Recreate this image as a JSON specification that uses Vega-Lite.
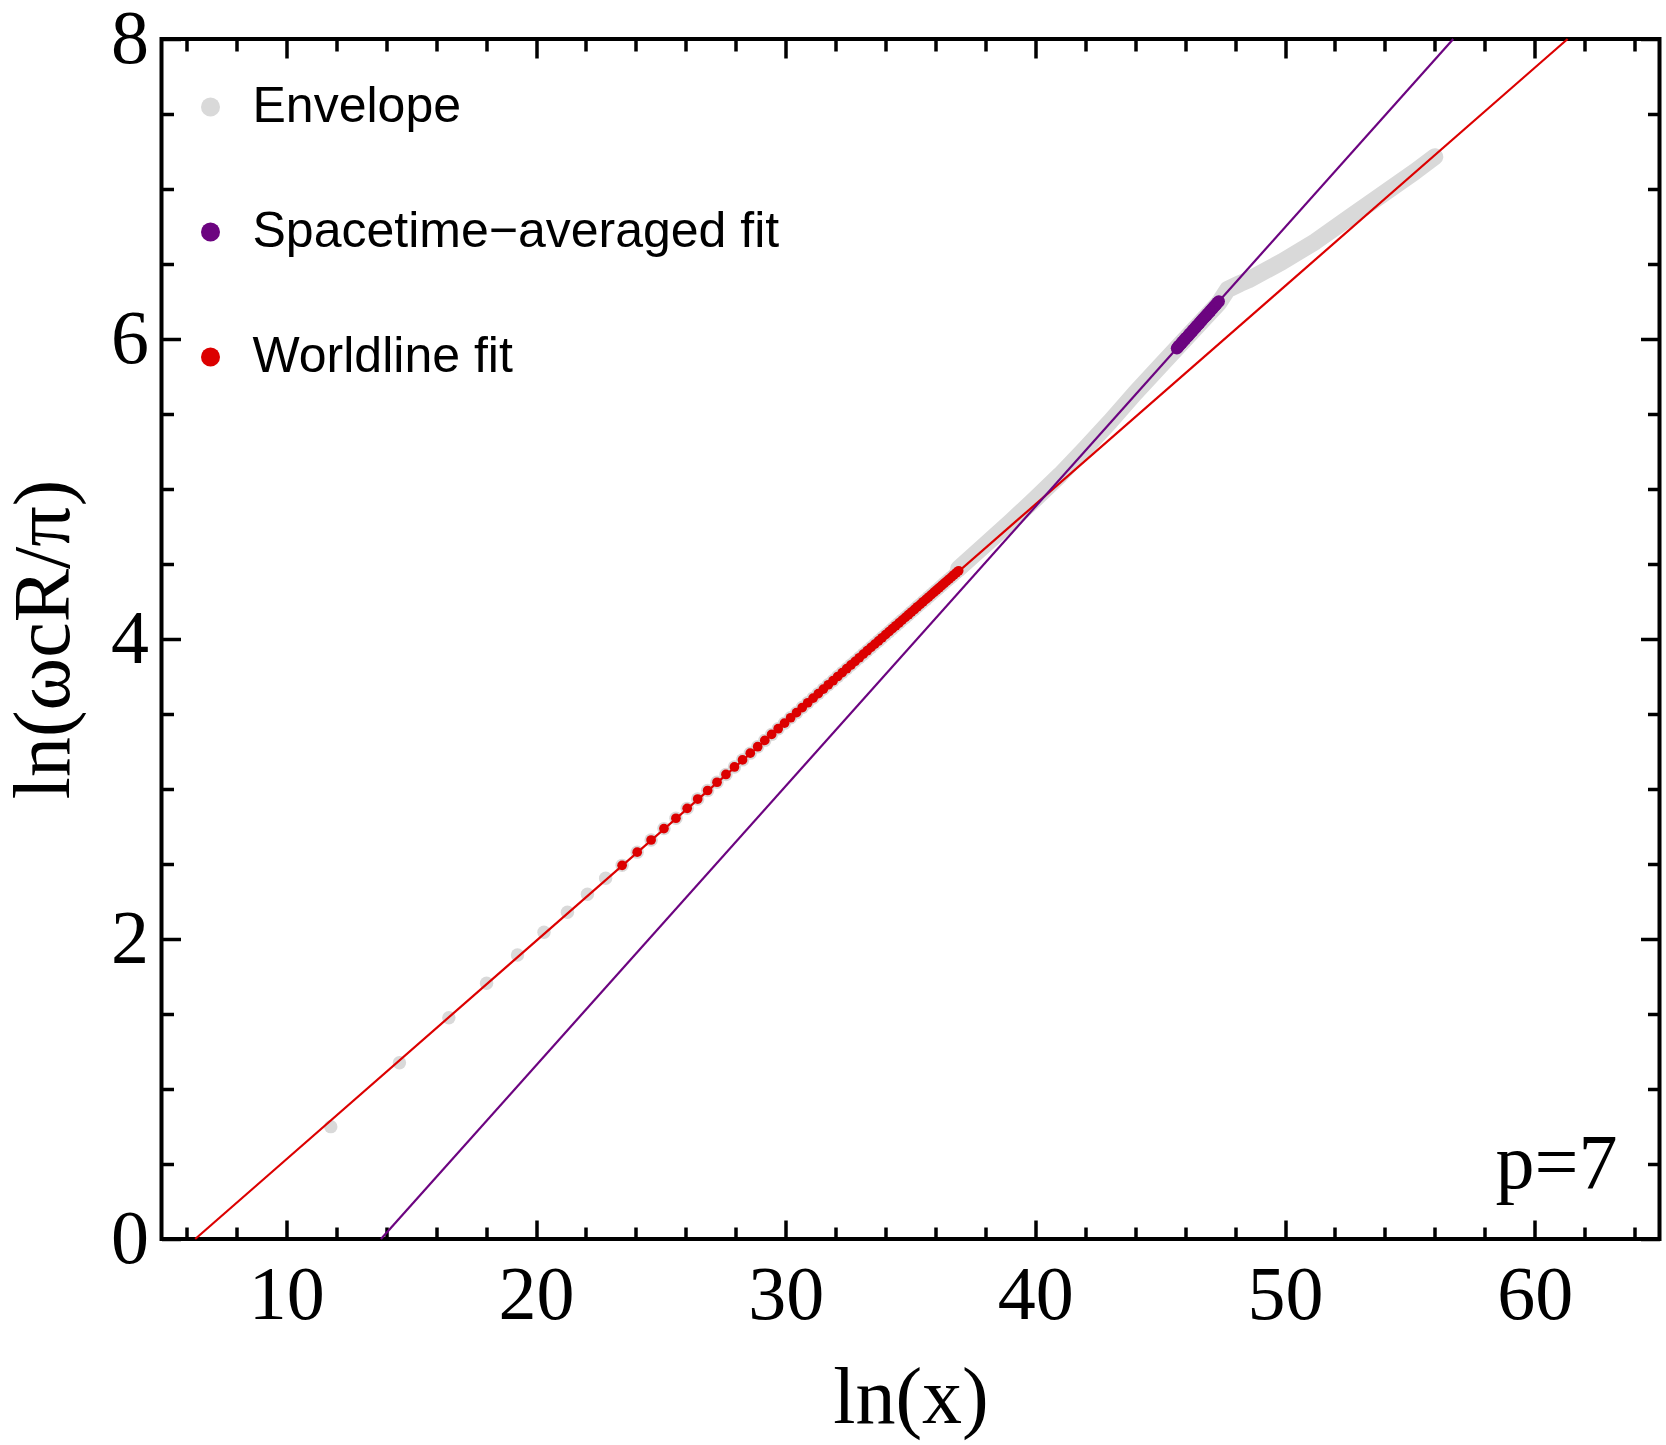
{
  "$schema": "https://vega.github.io/schema/vega-lite/v6.json",
  "autosize": "none",
  "padding": {"left": 161.5, "top": 39, "right": 6.5, "bottom": 206},
  "width": 1498,
  "height": 1200,
  "background": "white",
  "config": {
    "view": {"stroke": "black", "strokeWidth": 4},
    "axis": {
      "domain": false, "grid": false,
      "tickColor": "black", "tickWidth": 3.5,
      "labelFont": "Liberation Serif", "labelFontSize": 76, "labelColor": "black",
      "titleFont": "Liberation Serif", "titleFontSize": 80, "titleFontWeight": "normal", "titleColor": "black"
    }
  },
  "datasets": {
    "pts": [
      {"lx": 11.78, "ly": 0.749, "w": 0}, {"lx": 14.53, "ly": 1.175, "w": 0}, {"lx": 16.51, "ly": 1.475, "w": 0},
      {"lx": 18.02, "ly": 1.705, "w": 0}, {"lx": 19.26, "ly": 1.893, "w": 0}, {"lx": 20.32, "ly": 2.045, "w": 0},
      {"lx": 21.26, "ly": 2.178, "w": 0}, {"lx": 22.06, "ly": 2.298, "w": 0}, {"lx": 22.79, "ly": 2.405, "w": 0},
      {"lx": 23.449, "ly": 2.491, "w": 1}, {"lx": 24.053, "ly": 2.579, "w": 1}, {"lx": 24.61, "ly": 2.66, "w": 1},
      {"lx": 25.125, "ly": 2.736, "w": 1}, {"lx": 25.605, "ly": 2.805, "w": 1}, {"lx": 26.055, "ly": 2.871, "w": 1},
      {"lx": 26.477, "ly": 2.933, "w": 1}, {"lx": 26.875, "ly": 2.99, "w": 1}, {"lx": 27.25, "ly": 3.045, "w": 1},
      {"lx": 27.608, "ly": 3.097, "w": 1}, {"lx": 27.948, "ly": 3.147, "w": 1}, {"lx": 28.272, "ly": 3.194, "w": 1},
      {"lx": 28.582, "ly": 3.239, "w": 1}, {"lx": 28.879, "ly": 3.282, "w": 1}, {"lx": 29.164, "ly": 3.324, "w": 1},
      {"lx": 29.437, "ly": 3.364, "w": 1}, {"lx": 29.7, "ly": 3.402, "w": 1}, {"lx": 29.954, "ly": 3.439, "w": 1},
      {"lx": 30.199, "ly": 3.475, "w": 1}, {"lx": 30.435, "ly": 3.509, "w": 1}, {"lx": 30.664, "ly": 3.543, "w": 1},
      {"lx": 30.885, "ly": 3.575, "w": 1}, {"lx": 31.1, "ly": 3.606, "w": 1}, {"lx": 31.308, "ly": 3.636, "w": 1},
      {"lx": 31.511, "ly": 3.666, "w": 1}, {"lx": 31.708, "ly": 3.695, "w": 1}, {"lx": 31.899, "ly": 3.722, "w": 1},
      {"lx": 32.085, "ly": 3.75, "w": 1}, {"lx": 32.267, "ly": 3.776, "w": 1}, {"lx": 32.444, "ly": 3.802, "w": 1},
      {"lx": 32.616, "ly": 3.827, "w": 1}, {"lx": 32.784, "ly": 3.851, "w": 1}, {"lx": 32.948, "ly": 3.875, "w": 1},
      {"lx": 33.109, "ly": 3.899, "w": 1}, {"lx": 33.266, "ly": 3.922, "w": 1}, {"lx": 33.419, "ly": 3.944, "w": 1},
      {"lx": 33.57, "ly": 3.966, "w": 1}, {"lx": 33.717, "ly": 3.987, "w": 1}, {"lx": 33.861, "ly": 4.008, "w": 1},
      {"lx": 34.002, "ly": 4.029, "w": 1}, {"lx": 34.141, "ly": 4.049, "w": 1}, {"lx": 34.276, "ly": 4.069, "w": 1},
      {"lx": 34.409, "ly": 4.088, "w": 1}, {"lx": 34.54, "ly": 4.107, "w": 1}, {"lx": 34.668, "ly": 4.126, "w": 1},
      {"lx": 34.794, "ly": 4.144, "w": 1}, {"lx": 34.918, "ly": 4.162, "w": 1}, {"lx": 35.039, "ly": 4.18, "w": 1},
      {"lx": 35.159, "ly": 4.197, "w": 1}, {"lx": 35.276, "ly": 4.215, "w": 1}, {"lx": 35.392, "ly": 4.231, "w": 1},
      {"lx": 35.505, "ly": 4.248, "w": 1}, {"lx": 35.617, "ly": 4.264, "w": 1}, {"lx": 35.727, "ly": 4.28, "w": 1},
      {"lx": 35.836, "ly": 4.296, "w": 1}, {"lx": 35.942, "ly": 4.312, "w": 1}, {"lx": 36.047, "ly": 4.327, "w": 1},
      {"lx": 36.151, "ly": 4.342, "w": 1}, {"lx": 36.253, "ly": 4.357, "w": 1}, {"lx": 36.354, "ly": 4.372, "w": 1},
      {"lx": 36.453, "ly": 4.386, "w": 1}, {"lx": 36.551, "ly": 4.4, "w": 1}, {"lx": 36.647, "ly": 4.414, "w": 1},
      {"lx": 36.742, "ly": 4.428, "w": 1}, {"lx": 36.836, "ly": 4.442, "w": 1}, {"lx": 36.929, "ly": 4.455, "w": 1}
    ],
    "band": [
      {"lx": 36.93, "ly": 4.47}, {"lx": 38.0, "ly": 4.63}, {"lx": 39.0, "ly": 4.78}, {"lx": 40.0, "ly": 4.935},
      {"lx": 41.0, "ly": 5.095}, {"lx": 42.0, "ly": 5.27}, {"lx": 43.0, "ly": 5.45}, {"lx": 44.0, "ly": 5.64},
      {"lx": 45.0, "ly": 5.82}, {"lx": 45.67, "ly": 5.94}, {"lx": 47.35, "ly": 6.24}, {"lx": 47.7, "ly": 6.33},
      {"lx": 48.2, "ly": 6.37}, {"lx": 48.55, "ly": 6.395}, {"lx": 49.88, "ly": 6.515}, {"lx": 51.21, "ly": 6.649},
      {"lx": 52.54, "ly": 6.805}, {"lx": 53.87, "ly": 6.96}, {"lx": 55.2, "ly": 7.115}, {"lx": 56.0, "ly": 7.215}
    ],
    "st": [
      {"lx": 45.67, "ly": 5.938}, {"lx": 45.718, "ly": 5.947}, {"lx": 45.766, "ly": 5.956}, {"lx": 45.814, "ly": 5.965},
      {"lx": 45.862, "ly": 5.974}, {"lx": 45.91, "ly": 5.983}, {"lx": 45.958, "ly": 5.992}, {"lx": 46.006, "ly": 6.001},
      {"lx": 46.054, "ly": 6.01}, {"lx": 46.102, "ly": 6.018}, {"lx": 46.15, "ly": 6.027}, {"lx": 46.198, "ly": 6.036},
      {"lx": 46.246, "ly": 6.045}, {"lx": 46.294, "ly": 6.054}, {"lx": 46.342, "ly": 6.063}, {"lx": 46.39, "ly": 6.072},
      {"lx": 46.438, "ly": 6.081}, {"lx": 46.486, "ly": 6.09}, {"lx": 46.534, "ly": 6.099}, {"lx": 46.582, "ly": 6.108},
      {"lx": 46.63, "ly": 6.117}, {"lx": 46.678, "ly": 6.126}, {"lx": 46.726, "ly": 6.135}, {"lx": 46.774, "ly": 6.144},
      {"lx": 46.822, "ly": 6.152}, {"lx": 46.87, "ly": 6.161}, {"lx": 46.918, "ly": 6.17}, {"lx": 46.966, "ly": 6.179},
      {"lx": 47.014, "ly": 6.188}, {"lx": 47.062, "ly": 6.197}, {"lx": 47.11, "ly": 6.206}, {"lx": 47.158, "ly": 6.215},
      {"lx": 47.206, "ly": 6.224}, {"lx": 47.254, "ly": 6.233}, {"lx": 47.302, "ly": 6.242}, {"lx": 47.35, "ly": 6.251}
    ],
    "fits": [
      {"lx": 6.35, "ly": 0, "f": "w"}, {"lx": 61.32, "ly": 8, "f": "w"},
      {"lx": 13.79, "ly": 0, "f": "s"}, {"lx": 56.74, "ly": 8, "f": "s"}
    ],
    "note": [{"lx": 63.32, "ly": 0.34, "t": "p=7"}]
  },
  "resolve": {"axis": {"x": "independent", "y": "independent"}},
  "layer": [
    {
      "data": {"name": "band"},
      "mark": {"type": "line", "color": "#d9d9d9", "strokeWidth": 17, "strokeCap": "round", "strokeJoin": "round"},
      "encoding": {
        "x": {"field": "lx", "type": "quantitative", "scale": {"domain": [5, 65], "nice": false, "zero": false},
              "axis": {"orient": "top", "values": [10, 20, 30, 40, 50, 60], "tickSize": -19, "labels": false, "title": null}},
        "y": {"field": "ly", "type": "quantitative", "scale": {"domain": [0, 8], "nice": false},
              "axis": {"orient": "right", "values": [0, 2, 4, 6, 8], "tickSize": -19, "labels": false, "title": null}}
      }
    },
    {
      "data": {"name": "pts"},
      "mark": {"type": "point", "filled": true, "opacity": 1, "size": 180},
      "encoding": {
        "x": {"field": "lx", "type": "quantitative", "scale": {"domain": [5, 65], "nice": false, "zero": false},
              "axis": {"orient": "top", "values": [6, 8, 12, 14, 16, 18, 22, 24, 26, 28, 32, 34, 36, 38, 42, 44, 46, 48, 52, 54, 56, 58, 62, 64], "tickSize": -12, "labels": false, "title": null}},
        "y": {"field": "ly", "type": "quantitative", "scale": {"domain": [0, 8], "nice": false},
              "axis": {"orient": "right", "values": [0.5, 1, 1.5, 2.5, 3, 3.5, 4.5, 5, 5.5, 6.5, 7, 7.5], "tickSize": -12, "labels": false, "title": null}},
        "color": {
          "datum": "Envelope", "type": "nominal",
          "scale": {"domain": ["Envelope", "Spacetime−averaged fit", "Worldline fit"], "range": ["#d9d9d9", "#6c0480", "#dc0000"]},
          "legend": {
            "orient": "none", "legendX": 24, "legendY": 43, "title": null, "padding": 0,
            "symbolType": "circle", "symbolSize": 361, "symbolStrokeWidth": 0, "symbolOpacity": 1,
            "labelFont": "Liberation Sans", "labelFontSize": 50, "labelColor": "black", "labelOffset": 17,
            "labelLimit": 1000, "rowPadding": 75
          }
        }
      }
    },
    {
      "data": {"name": "fits"},
      "transform": [{"filter": "datum.f === 'w'"}],
      "mark": {"type": "line", "color": "#dc0000", "strokeWidth": 2.2},
      "encoding": {
        "x": {"field": "lx", "type": "quantitative", "scale": {"domain": [5, 65], "nice": false, "zero": false},
              "axis": {"orient": "bottom", "values": [10, 20, 30, 40, 50, 60], "tickSize": -19, "labelPadding": 38, "title": "ln(x)", "titlePadding": 26}},
        "y": {"field": "ly", "type": "quantitative", "scale": {"domain": [0, 8], "nice": false},
              "axis": {"orient": "left", "values": [0, 2, 4, 6, 8], "tickSize": -19, "labelPadding": 32, "title": "ln(ωcR/π)", "titlePadding": 25}}
      }
    },
    {
      "data": {"name": "fits"},
      "transform": [{"filter": "datum.f === 's'"}],
      "mark": {"type": "line", "color": "#6c0480", "strokeWidth": 2.2},
      "encoding": {
        "x": {"field": "lx", "type": "quantitative", "scale": {"domain": [5, 65], "nice": false, "zero": false},
              "axis": {"orient": "bottom", "values": [6, 8, 12, 14, 16, 18, 22, 24, 26, 28, 32, 34, 36, 38, 42, 44, 46, 48, 52, 54, 56, 58, 62, 64], "tickSize": -12, "labels": false, "title": null}},
        "y": {"field": "ly", "type": "quantitative", "scale": {"domain": [0, 8], "nice": false},
              "axis": {"orient": "left", "values": [0.5, 1, 1.5, 2.5, 3, 3.5, 4.5, 5, 5.5, 6.5, 7, 7.5], "tickSize": -12, "labels": false, "title": null}}
      }
    },
    {
      "data": {"name": "st"},
      "mark": {"type": "point", "filled": true, "opacity": 1, "size": 150},
      "encoding": {
        "x": {"field": "lx", "type": "quantitative", "axis": null},
        "y": {"field": "ly", "type": "quantitative", "axis": null},
        "color": {"datum": "Spacetime−averaged fit", "type": "nominal"}
      }
    },
    {
      "data": {"name": "pts"},
      "transform": [{"filter": "datum.w === 1"}],
      "mark": {"type": "point", "filled": true, "opacity": 1, "size": 95},
      "encoding": {
        "x": {"field": "lx", "type": "quantitative", "axis": null},
        "y": {"field": "ly", "type": "quantitative", "axis": null},
        "color": {"datum": "Worldline fit", "type": "nominal"}
      }
    },
    {
      "data": {"name": "note"},
      "mark": {"type": "text", "font": "Liberation Serif", "fontSize": 78, "align": "right", "baseline": "alphabetic", "color": "black"},
      "encoding": {
        "x": {"field": "lx", "type": "quantitative", "axis": null},
        "y": {"field": "ly", "type": "quantitative", "axis": null},
        "text": {"field": "t"}
      }
    }
  ]
}
